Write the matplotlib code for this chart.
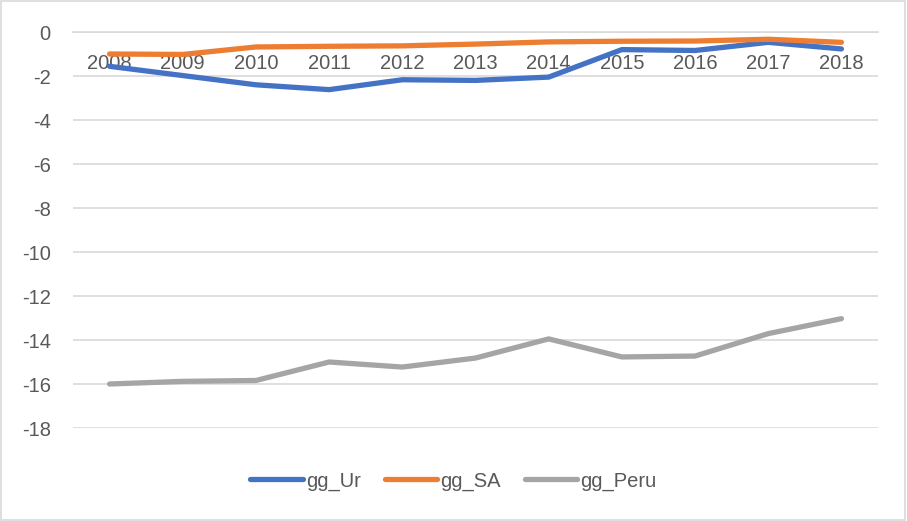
import numpy as np
import matplotlib.pyplot as plt
from matplotlib.patches import Rectangle

years = ['2008', '2009', '2010', '2011', '2012', '2013', '2014', '2015', '2016', '2017', '2018']
gg_ur = [-1.56, -1.98, -2.4, -2.62, -2.17, -2.2, -2.05, -0.8, -0.84, -0.47, -0.77]
gg_sa = [-1.0, -1.02, -0.68, -0.65, -0.63, -0.55, -0.45, -0.42, -0.41, -0.33, -0.47]
gg_peru = [-16.0, -15.88, -15.84, -15.0, -15.23, -14.82, -13.95, -14.77, -14.73, -13.71, -13.03]
yticks = list(range(-18, 1, 2))

text_color = '#595959'
grid_color = '#d9d9d9'
plt.rcParams['font.family'] = ['Liberation Sans', 'DejaVu Sans']

fig = plt.figure(figsize=(9.07, 5.21), dpi=100)
ax = fig.add_axes([73 / 907, 1 - 428 / 521, 805 / 907, 396 / 521])

x = np.arange(len(years))
series = [(gg_ur, '#4472c4', 'gg_Ur'), (gg_sa, '#ed7d31', 'gg_SA'), (gg_peru, '#a5a5a5', 'gg_Peru')]
for vals, color, label in series:
    ax.plot(x, vals, color=color, lw=3.8, solid_capstyle='round',
            solid_joinstyle='round', label=label, zorder=3)

ax.set_xlim(-0.5, len(years) - 0.5)
ax.set_ylim(-18, 0)
ax.set_yticks(yticks)
ax.set_yticklabels([str(v) for v in yticks])
ax.set_xticks(x)
ax.set_xticklabels(years)
ax.grid(axis='y', color=grid_color, lw=1.2, zorder=0)
for side in ['left', 'right', 'top']:
    ax.spines[side].set_visible(False)
ax.spines['bottom'].set_position(('data', 0))
ax.spines['bottom'].set_color(grid_color)
ax.spines['bottom'].set_linewidth(1.2)
ax.tick_params(axis='x', length=0, pad=16, labelsize=14.5, labelcolor=text_color)
ax.tick_params(axis='y', length=0, pad=16, labelsize=14.5, labelcolor=text_color)

fig.legend(loc='center', bbox_to_anchor=(0.5, 1 - 481 / 521), ncol=3, frameon=False,
           fontsize=14.5, labelcolor=text_color, handlelength=2.6, handletextpad=0.15,
           columnspacing=1.2)

fig.patches.append(Rectangle((0.001, 0.001), 0.997, 0.997, transform=fig.transFigure,
                             fill=False, edgecolor=grid_color, lw=1.2))

fig.savefig('out.png', dpi=100, facecolor='white')
